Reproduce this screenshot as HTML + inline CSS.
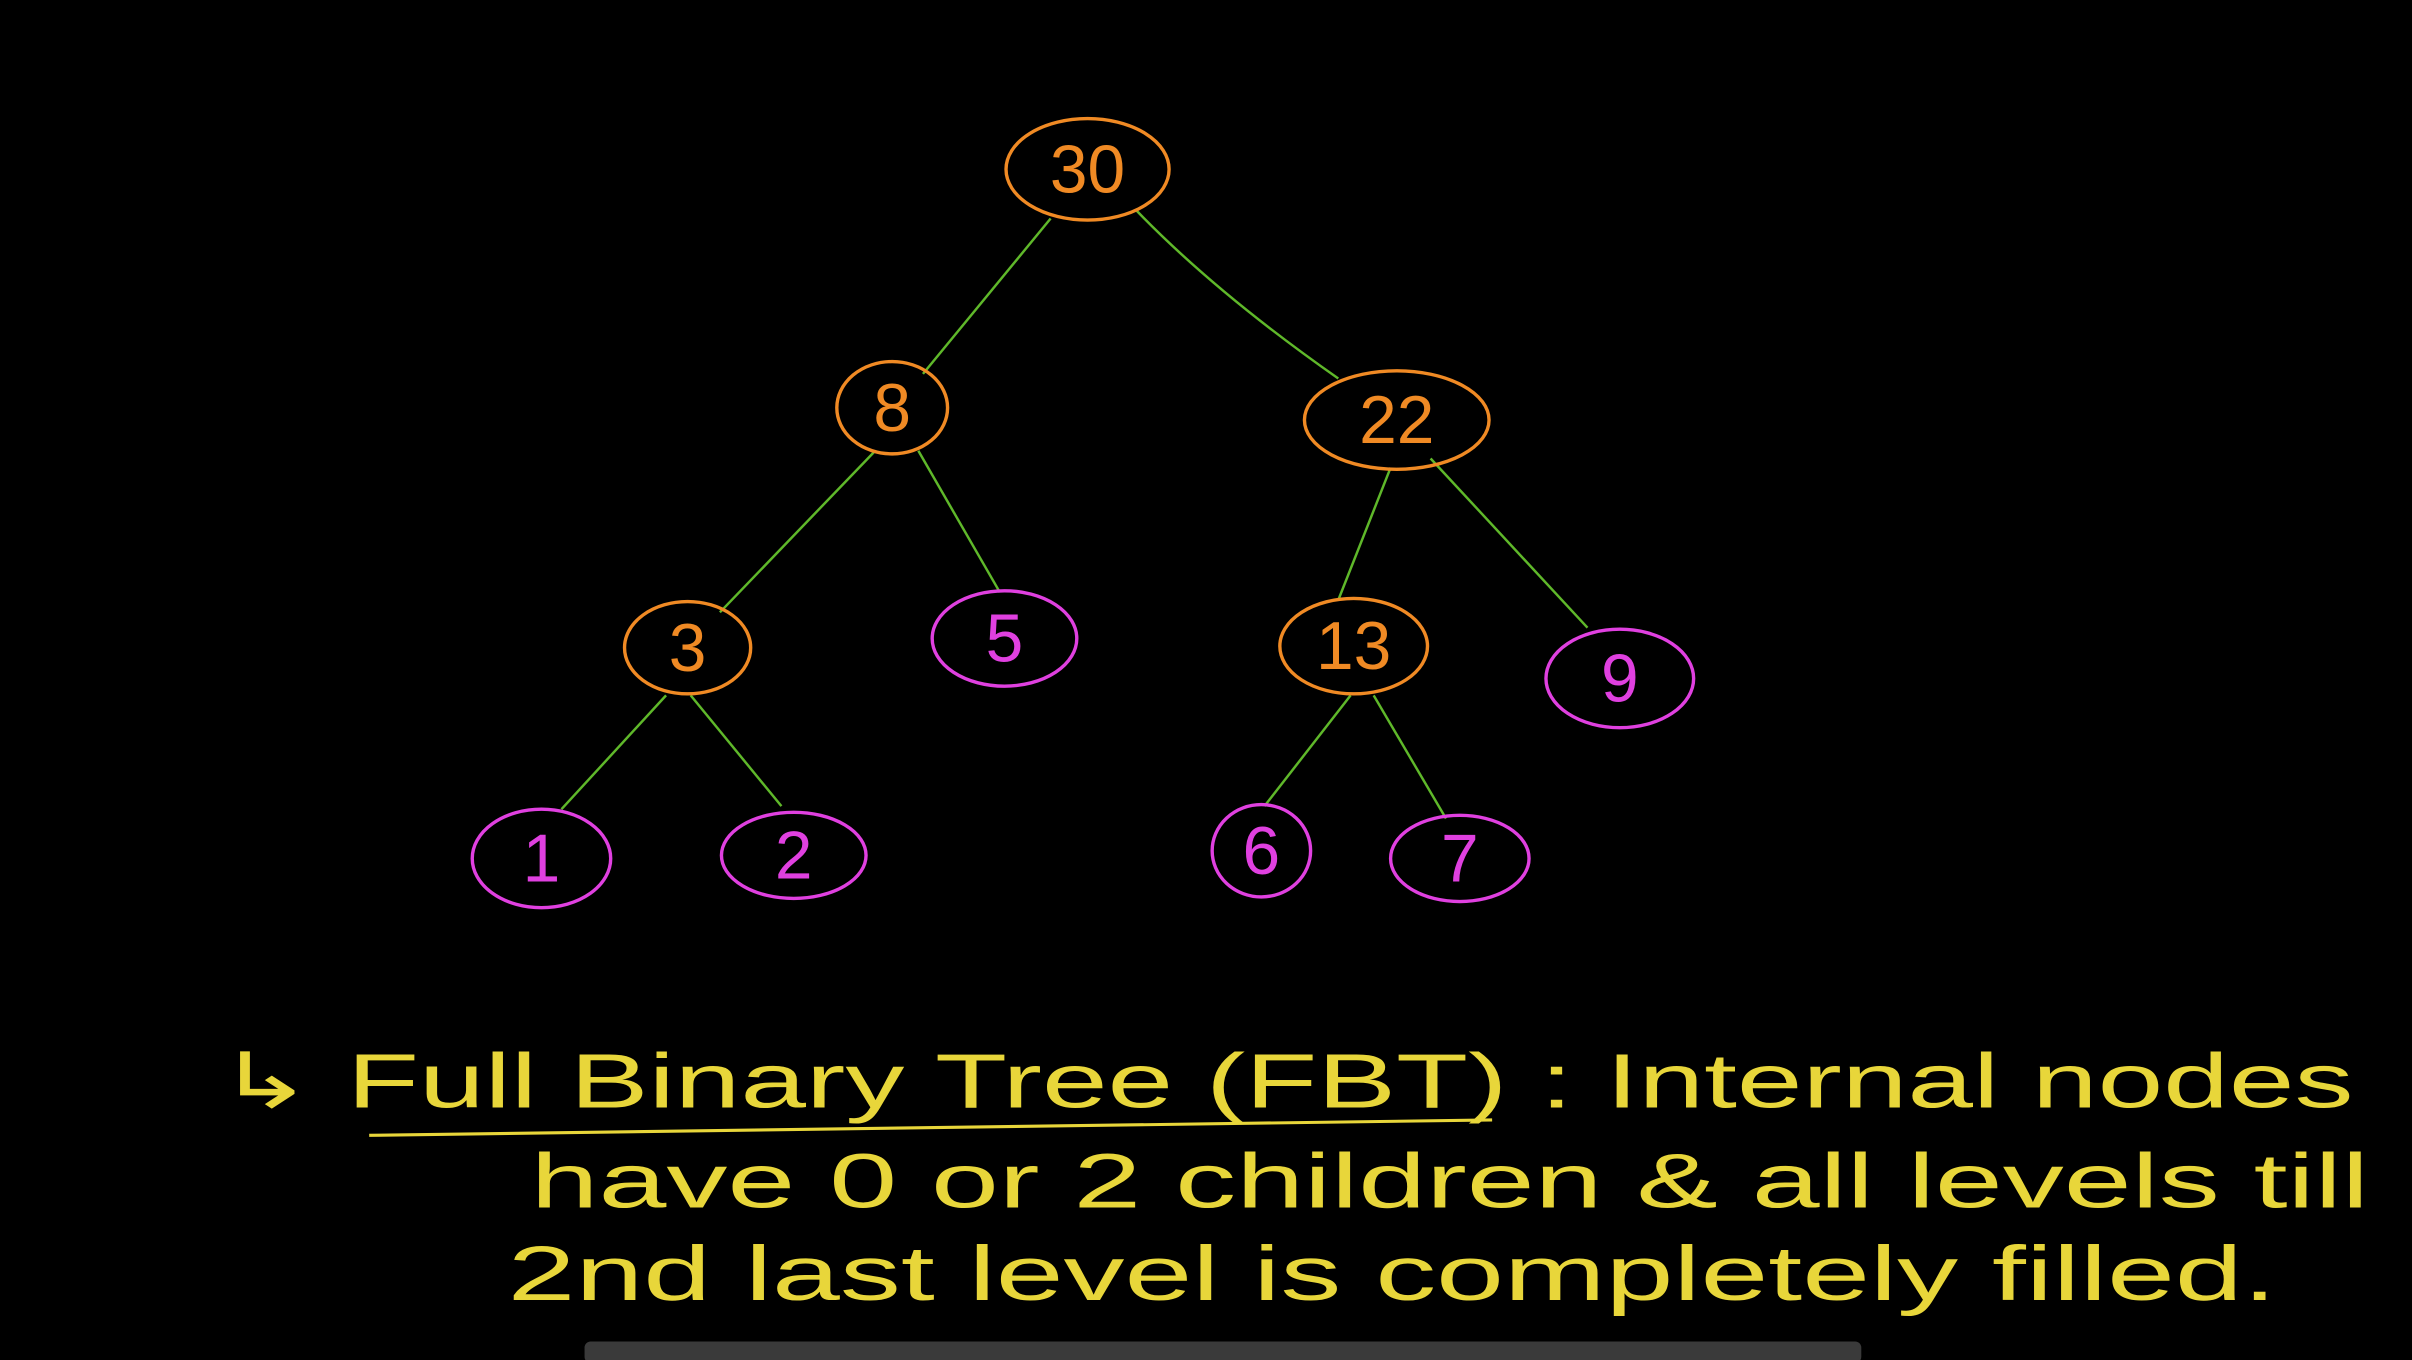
<!DOCTYPE html>
<html><head><style>
html,body{margin:0;padding:0;background:#000;width:2412px;height:1360px;overflow:hidden}
svg{display:block}
</style></head><body>
<svg width="2412" height="1360" viewBox="0 0 1568 884" xmlns="http://www.w3.org/2000/svg">
<rect width="1568" height="884" fill="#000"/>
<g stroke="#5fb82a" stroke-width="1.6" fill="none">
<line x1="683" y1="142" x2="600" y2="243"/>
<path d="M738 136 Q790 190 870 246"/>
<line x1="568" y1="294" x2="468" y2="398"/>
<line x1="597" y1="293" x2="650" y2="385"/>
<line x1="904" y1="304" x2="870" y2="390"/>
<line x1="930" y1="298" x2="1032" y2="408"/>
<line x1="433" y1="452" x2="365" y2="526"/>
<line x1="449" y1="452" x2="508" y2="524"/>
<line x1="878" y1="452" x2="822" y2="524"/>
<line x1="893" y1="452" x2="940" y2="532"/>
</g>
<g fill="none" stroke-width="2.2">
<ellipse cx="707" cy="110" rx="53" ry="33" stroke="#f08a24"/>
<ellipse cx="580" cy="265" rx="36" ry="30" stroke="#f08a24"/>
<ellipse cx="908" cy="273" rx="60" ry="32" stroke="#f08a24"/>
<ellipse cx="447" cy="421" rx="41" ry="30" stroke="#f08a24"/>
<ellipse cx="880" cy="420" rx="48" ry="31" stroke="#f08a24"/>
<ellipse cx="653" cy="415" rx="47" ry="31" stroke="#e040e0"/>
<ellipse cx="1053" cy="441" rx="48" ry="32" stroke="#e040e0"/>
<ellipse cx="352" cy="558" rx="45" ry="32" stroke="#e040e0"/>
<ellipse cx="516" cy="556" rx="47" ry="28" stroke="#e040e0"/>
<ellipse cx="820" cy="553" rx="32" ry="30" stroke="#e040e0"/>
<ellipse cx="949" cy="558" rx="45" ry="28" stroke="#e040e0"/>
</g>
<g font-family="Liberation Sans, sans-serif" font-size="44" text-anchor="middle">
<text x="707" y="125" fill="#f08a24">30</text>
<text x="580" y="280" fill="#f08a24">8</text>
<text x="908" y="288" fill="#f08a24">22</text>
<text x="447" y="436" fill="#f08a24">3</text>
<text x="880" y="435" fill="#f08a24">13</text>
<text x="653" y="430" fill="#e040e0">5</text>
<text x="1053" y="456" fill="#e040e0">9</text>
<text x="352" y="573" fill="#e040e0">1</text>
<text x="516" y="571" fill="#e040e0">2</text>
<text x="820" y="568" fill="#e040e0">6</text>
<text x="949" y="573" fill="#e040e0">7</text>
</g>
<g font-family="Liberation Sans, sans-serif" font-size="50" fill="#e8d63a">
<text x="140" y="720" textLength="1390" lengthAdjust="spacingAndGlyphs">↳ Full Binary Tree (FBT) : Internal nodes</text>
<text x="345" y="785" textLength="1195" lengthAdjust="spacingAndGlyphs">have 0 or 2 children &amp; all levels till</text>
<text x="330" y="845" textLength="1150" lengthAdjust="spacingAndGlyphs">2nd last level is completely filled.</text>
</g>
<line x1="240" y1="738" x2="970" y2="728" stroke="#e8d63a" stroke-width="2"/>
<rect x="380" y="872" width="830" height="14" rx="4" fill="#3a3a3a"/>
</svg>
</body></html>
